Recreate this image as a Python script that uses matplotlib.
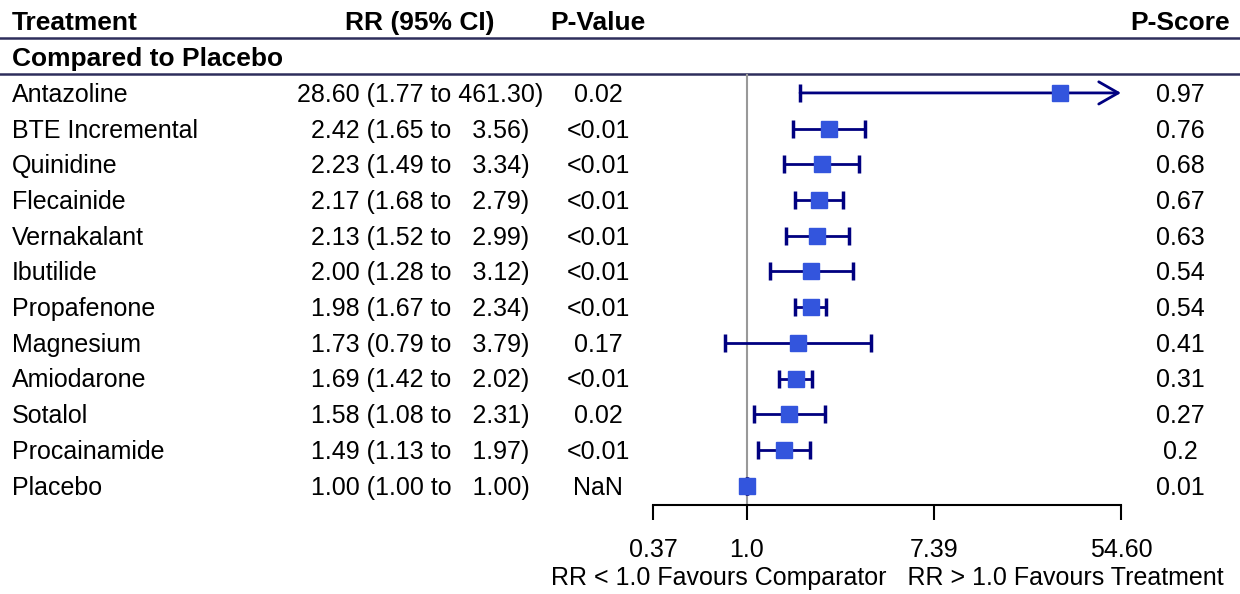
import numpy as np
import matplotlib
matplotlib.use("Agg")
import matplotlib.pyplot as plt

plt.rcParams['font.family'] = ['Liberation Sans', 'DejaVu Sans']

# data
treatments = ["Antazoline", "BTE Incremental", "Quinidine", "Flecainide", "Vernakalant",
              "Ibutilide", "Propafenone", "Magnesium", "Amiodarone", "Sotalol",
              "Procainamide", "Placebo"]
rr = [28.60, 2.42, 2.23, 2.17, 2.13, 2.00, 1.98, 1.73, 1.69, 1.58, 1.49, 1.00]
ci_low = [1.77, 1.65, 1.49, 1.68, 1.52, 1.28, 1.67, 0.79, 1.42, 1.08, 1.13, 1.00]
ci_high = [461.30, 3.56, 3.34, 2.79, 2.99, 3.12, 2.34, 3.79, 2.02, 2.31, 1.97, 1.00]
p_values = ["0.02", "<0.01", "<0.01", "<0.01", "<0.01", "<0.01", "<0.01", "0.17",
            "<0.01", "0.02", "<0.01", "NaN"]
p_scores = [0.97, 0.76, 0.68, 0.67, 0.63, 0.54, 0.54, 0.41, 0.31, 0.27, 0.2, 0.01]
tick_vals = [np.exp(-1), 1.0, np.exp(2), np.exp(4)]
tick_labels = ["0.37", "1.0", "7.39", "54.60"]

navy = "#000080"
box = "#3355dd"
rule = "#2e2e5c"
fs = 18
fs_head = 19
dy = 0.05  # small nudge so text sits level with the markers

fig = plt.figure(figsize=(12.4, 5.94), dpi=100)

# background axes: x in pixels, y in row units
bg = fig.add_axes([0, 0, 1, 1])
bg.set_xlim(0, 1240)
bg.set_ylim(14.03, -2.605)
bg.axis('off')

# headers
bg.text(12, -2 + dy, "Treatment", ha='left', va='center', fontsize=fs_head, fontweight='bold')
bg.text(420, -2 + dy, "RR (95% CI)", ha='center', va='center', fontsize=fs_head, fontweight='bold')
bg.text(598, -2 + dy, "P-Value", ha='center', va='center', fontsize=fs_head, fontweight='bold')
bg.text(1230, -2 + dy, "P-Score", ha='right', va='center', fontsize=fs_head, fontweight='bold')
bg.plot([0, 1240], [-1.54, -1.54], color=rule, lw=1.8)
bg.text(12, -1 + dy, "Compared to Placebo", ha='left', va='center', fontsize=fs_head, fontweight='bold')
bg.plot([0, 1240], [-0.53, -0.53], color=rule, lw=1.8)

for i, name in enumerate(treatments):
    bg.text(12, i + dy, name, ha='left', va='center', fontsize=fs)
    txt = f"{rr[i]:.2f} ({ci_low[i]:.2f} to {ci_high[i]:6.2f})"
    bg.text(420, i + dy, txt, ha='center', va='center', fontsize=fs)
    bg.text(598, i + dy, p_values[i], ha='center', va='center', fontsize=fs)
    bg.text(1180, i + dy, str(p_scores[i]), ha='center', va='center', fontsize=fs)

# forest axes
ax = fig.add_axes([653 / 1240, (594 - 505) / 594, 468 / 1240, (505 - 74) / 594])
ax.patch.set_alpha(0)
ax.set_xscale('log')
xmin, xmax = tick_vals[0], tick_vals[-1]
ax.set_xlim(xmin, xmax)
ax.set_ylim(11.54, -0.53)
for s in ['top', 'right', 'left']:
    ax.spines[s].set_visible(False)
ax.spines['bottom'].set_linewidth(1.5)
ax.set_yticks([])
ax.minorticks_off()
ax.set_xticks(tick_vals)
ax.set_xticklabels(tick_labels, fontsize=fs)
ax.tick_params(axis='x', direction='out', length=11, width=1.5, pad=13)
ax.set_xlabel("RR < 1.0 Favours Comparator   RR > 1.0 Favours Treatment", fontsize=fs, labelpad=3)

ax.axvline(1.0, color='#999999', lw=1.5, zorder=1)

for i in range(len(treatments)):
    if ci_high[i] > xmax:
        ax.annotate('', xy=(xmax, i), xytext=(ci_low[i], i),
                    arrowprops=dict(arrowstyle='->,head_length=0.7,head_width=0.4',
                                    lw=2, color=navy, shrinkA=0, shrinkB=0,
                                    mutation_scale=20),
                    annotation_clip=False, zorder=2)
        ax.plot([ci_low[i]], [i], marker='|', markersize=13, mew=2.5, color=navy,
                clip_on=False, zorder=2)
    else:
        ax.errorbar([rr[i]], [i], xerr=[[rr[i] - ci_low[i]], [ci_high[i] - rr[i]]],
                    fmt='none', ecolor=navy, elinewidth=2, capsize=6.5, capthick=2.5,
                    clip_on=False, zorder=2)
    ax.plot([rr[i]], [i], marker='s', markersize=11, color=box, clip_on=False, zorder=3)

fig.savefig("out.png", dpi=100)
